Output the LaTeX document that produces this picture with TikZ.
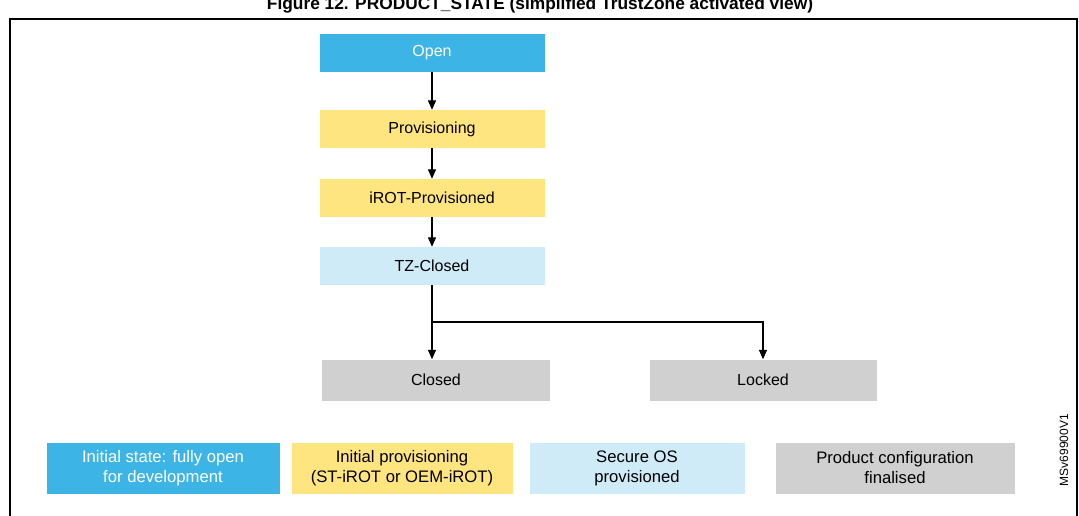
\documentclass[tikz,border=0pt]{standalone}
\usepackage{fontspec}
\setmainfont{Liberation Sans}
\usetikzlibrary{arrows.meta}
\definecolor{cblue}{HTML}{3CB4E6}
\definecolor{cyel}{HTML}{FFE57F}
\definecolor{clblue}{HTML}{CFEBF8}
\definecolor{cgrey}{HTML}{D0D0D0}
\begin{document}
\begin{tikzpicture}[x=0.75pt,y=-0.75pt,
  st/.style={minimum width=#1*0.75pt,minimum height=38*0.75pt,inner sep=0pt,font=\fontsize{12}{14}\selectfont,align=center},
  lg/.style={minimum width=#1*0.75pt,minimum height=51*0.75pt,inner sep=0pt,font=\fontsize{12.5}{15}\selectfont,align=center},
  ar/.style={-{Triangle[length=7pt,width=6pt]},line width=0.8pt}]
\useasboundingbox (0,0) rectangle (1079,515);
\begin{scope}
\clip (0,0) rectangle (1079,515);
\node[font=\bfseries\fontsize{13}{15}\selectfont] (title) at (540,5) {Figure 12. PRODUCT\_STATE (simplified TrustZone activated view)};
\draw[line width=0.8pt] (10,19) rectangle (1077,520);
\end{scope}
\node[st=225,fill=cblue,text=white] (open) at (432,53) {Open};
\node[st=225,fill=cyel] (prov) at (432,129) {Provisioning};
\node[st=225,fill=cyel] (irot) at (432,198) {iROT-Provisioned};
\node[st=225,fill=clblue] (tz) at (432,266) {TZ-Closed};
\node[st=228,minimum height=41*0.75pt,fill=cgrey] (closed) at (436,380) {Closed};
\node[st=227,minimum height=41*0.75pt,fill=cgrey] (locked) at (763,380) {Locked};
\draw[ar] (open) -- (prov);
\draw[ar] (prov) -- (irot);
\draw[ar] (irot) -- (tz);
\coordinate (br) at (432,322);
\draw[ar] (tz.south -| br) -- (br) -- (br |- closed.north);
\draw[ar] (br) -| (locked.north);
\node[lg=233,fill=cblue,text=white] (l1) at (163,468) {Initial state: fully open\\for development};
\node[lg=221,fill=cyel] (l2) at (402,468) {Initial provisioning\\(ST-iROT or OEM-iROT)};
\node[lg=215,fill=clblue] (l3) at (637,468) {Secure OS\\provisioned};
\node[lg=239,fill=cgrey] (l4) at (895,468) {Product configuration\\finalised};
\node[rotate=90,font=\fontsize{9}{10}\selectfont] (id) at (1064,450) {MSv69900V1};
\end{tikzpicture}
\end{document}
